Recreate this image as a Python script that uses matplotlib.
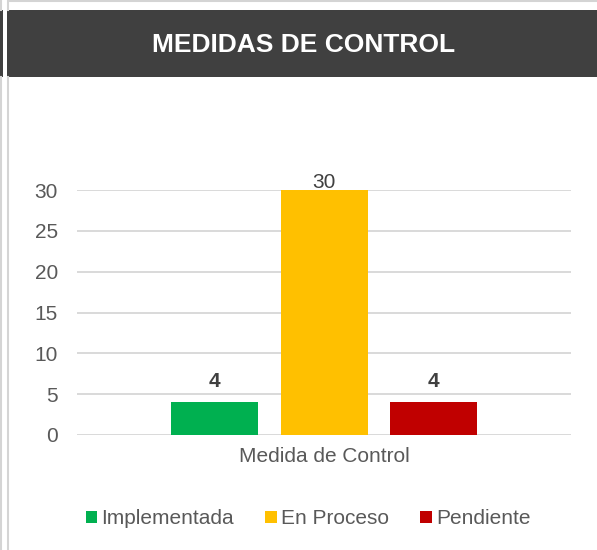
import matplotlib
matplotlib.use("Agg")
import matplotlib.pyplot as plt
from matplotlib.patches import Rectangle
from matplotlib.lines import Line2D

plt.rcParams['font.family'] = ['Liberation Sans', 'DejaVu Sans']

title = "MEDIDAS DE CONTROL"
category = "Medida de Control"
series = ["Implementada", "En Proceso", "Pendiente"]
values = [4, 30, 4]
colors = ["#00B050", "#FFC000", "#C00000"]
yticks = [0, 5, 10, 15, 20, 25, 30]

W, H = 597, 550
fig = plt.figure(figsize=(W / 100, H / 100), dpi=100)

def fx(x):
    return x / W

def fy(y):
    return 1 - y / H

# frame decorations
fig.patches.append(Rectangle((fx(7), fy(77)), fx(W - 7), (77 - 10) / H,
                             transform=fig.transFigure, facecolor="#404040",
                             edgecolor="none", zorder=0))
fig.patches.append(Rectangle((0, fy(77)), fx(3), (77 - 10) / H,
                             transform=fig.transFigure, facecolor="#404040",
                             edgecolor="none", zorder=0))
fig.lines.append(Line2D([fx(1), fx(1)], [fy(0), fy(10)], transform=fig.transFigure,
                        color="#d4d4d4", lw=1.5))
fig.lines.append(Line2D([fx(1), fx(1)], [fy(77), fy(550)], transform=fig.transFigure,
                        color="#d4d4d4", lw=1.5))
fig.lines.append(Line2D([fx(8.3), fx(8.3)], [fy(0), fy(10)], transform=fig.transFigure,
                        color="#d4d4d4", lw=1.5))
fig.lines.append(Line2D([fx(8.3), fx(8.3)], [fy(77), fy(550)], transform=fig.transFigure,
                        color="#d4d4d4", lw=1.5))
fig.lines.append(Line2D([fx(9), 1], [fy(1), fy(1)], transform=fig.transFigure,
                        color="#d4d4d4", lw=1.5))

fig.text(fx(304), fy(45), title, color="white", fontsize=19, fontweight="bold",
         ha="center", va="center")

ax = fig.add_axes([fx(77), fy(435), fx(571 - 77), (435 - 190) / H])
n = len(values)
spacing = 109.5
width_units = 87 / spacing
half = (571 - 77) / 2 / spacing
positions = [i - (n - 1) / 2 for i in range(n)]
bars = ax.bar(positions, values, width=width_units, color=colors, label=series, zorder=3)
ax.set_xlim(-half, half)
ax.set_ylim(0, 30)
ax.set_yticks(yticks)
ax.set_xticks([0])
ax.set_xticklabels([category])
ax.tick_params(axis='y', length=0, pad=13.7, labelsize=15, labelcolor="#595959")
ax.tick_params(axis='x', length=0, pad=9, labelsize=15, labelcolor="#595959")
ax.grid(axis='y', color="#d9d9d9", lw=1.4, zorder=0)
for s in ax.spines.values():
    s.set_visible(False)

for p, v in zip(positions, values):
    if v == max(values):
        ax.text(p, v + 0.9, str(v), ha="center", va="center", fontsize=15,
                color="#404040", clip_on=False, zorder=4)
    else:
        ax.text(p, v + 2.6, str(v), ha="center", va="center", fontsize=15,
                color="#404040", fontweight="bold", zorder=4)

leg = fig.legend(handles=bars, labels=series, loc="center", bbox_to_anchor=(fx(308), fy(519)),
                 ncol=3, frameon=False, fontsize=15, handlelength=0.55, handleheight=0.55,
                 handletextpad=0.2, columnspacing=1.5)
for t in leg.get_texts():
    t.set_color("#595959")

fig.savefig("out.png", dpi=100)
